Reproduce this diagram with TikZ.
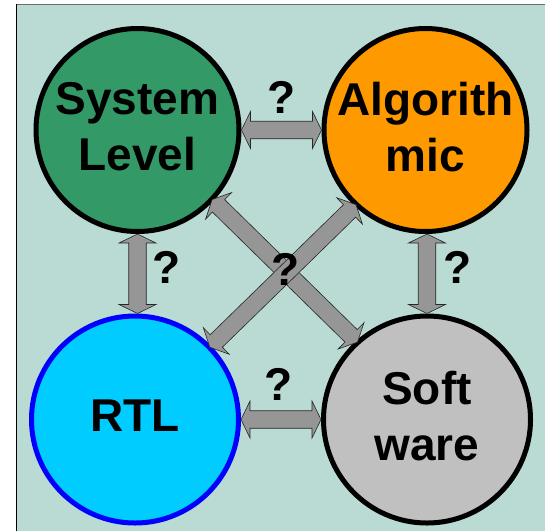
\documentclass[tikz,border=0pt]{standalone}
\usepackage{fontspec}
\setmainfont{Liberation Sans}
\usetikzlibrary{calc}

\definecolor{bgteal}{RGB}{185,219,212}
\definecolor{sysgreen}{RGB}{51,153,102}
\definecolor{algorange}{RGB}{255,153,0}
\definecolor{rtlcyan}{RGB}{0,204,255}
\definecolor{rtlblue}{RGB}{0,0,255}
\definecolor{swgray}{RGB}{192,192,192}
\definecolor{arrowgray}{RGB}{150,150,150}
\definecolor{framegray}{RGB}{110,110,110}

% block double arrow from #1 to #2; #3 is a prefix for helper coordinates
\newcommand\blockarrow[3]{%
  \coordinate (#3-a) at ($(#1)!9pt!(#2)$);
  \coordinate (#3-b) at ($(#2)!9pt!(#1)$);
  \draw[arrowbody] (#1)
    -- ($(#3-a)!18.5pt!90:(#2)$) -- ($(#3-a)!8.75pt!90:(#2)$)
    -- ($(#3-b)!8.75pt!-90:(#1)$) -- ($(#3-b)!18.5pt!-90:(#1)$)
    -- (#2)
    -- ($(#3-b)!18.5pt!90:(#1)$) -- ($(#3-b)!8.75pt!90:(#1)$)
    -- ($(#3-a)!8.75pt!-90:(#2)$) -- ($(#3-a)!18.5pt!-90:(#2)$)
    -- cycle;
}

\begin{document}
\begin{tikzpicture}[x=1pt,y=-1pt,
  bigtext/.style={font=\bfseries\fontsize{46}{56}\selectfont},
  domainbox/.style={circle, draw=black, line width=5pt, inner sep=0pt,
    bigtext, align=center, text depth=7pt},
  topdomain/.style={domainbox, minimum size=203pt},
  lowdomain/.style={domainbox, minimum size=207pt},
  qmark/.style={bigtext, inner sep=0pt},
  arrowbody/.style={fill=arrowgray, draw=black!85, line width=0.6pt, line join=miter}]

  % page, panel and its frame
  \useasboundingbox (0,0) rectangle (545,531);
  \fill[white] (0,0) rectangle (545,531);
  \fill[bgteal] (16,4) rectangle (545,531);
  \draw[framegray, line width=1pt] (16,4) -- (545,4);
  \draw[black, line width=1pt] (16,4) -- (16,531);

  % the four design domains
  \node[topdomain, fill=sysgreen] (sys) at (137.5,130) {System\\Level};
  \node[topdomain, fill=algorange] (alg) at (425.5,130) {Algorith\\mic};
  \node[lowdomain, fill=rtlcyan, draw=rtlblue] (rtl) at (135,419.5) {RTL};
  \node[lowdomain, fill=swgray] (sw) at (427,419.5) {Soft\\ware};

  % connectors between the domains
  \blockarrow{sys.east}{alg.west}{top}
  \blockarrow{rtl.east}{sw.west}{bot}
  \coordinate (lt) at (sys.south);
  \coordinate (lb) at (sys.south |- rtl.north);
  \blockarrow{lt}{lb}{left}
  \coordinate (rb) at (sw.north);
  \coordinate (rt) at (sw.north |- alg.south);
  \blockarrow{rt}{rb}{right}
  \coordinate (d1a) at ($(sys.-43)!-2pt!(sw.132)$);
  \coordinate (d1b) at ($(sw.132)!-2pt!(sys.-43)$);
  \blockarrow{d1a}{d1b}{diagA}
  \coordinate (d2a) at ($(alg.227)!-2pt!(rtl.44)$);
  \coordinate (d2b) at ($(rtl.44)!-2pt!(alg.227)$);
  \blockarrow{d2a}{d2b}{diagB}

  % open questions on each link
  \node[qmark] (qtop) at (281.8,97.3) {?};
  \node[qmark] (qbot) at (279,384.2) {?};
  \node[qmark] (qleft) at (167,267) {?};
  \node[qmark] (qright) at (457.5,267) {?};
  \node[qmark] (qmid) at (286,269) {?};
\end{tikzpicture}
\end{document}
